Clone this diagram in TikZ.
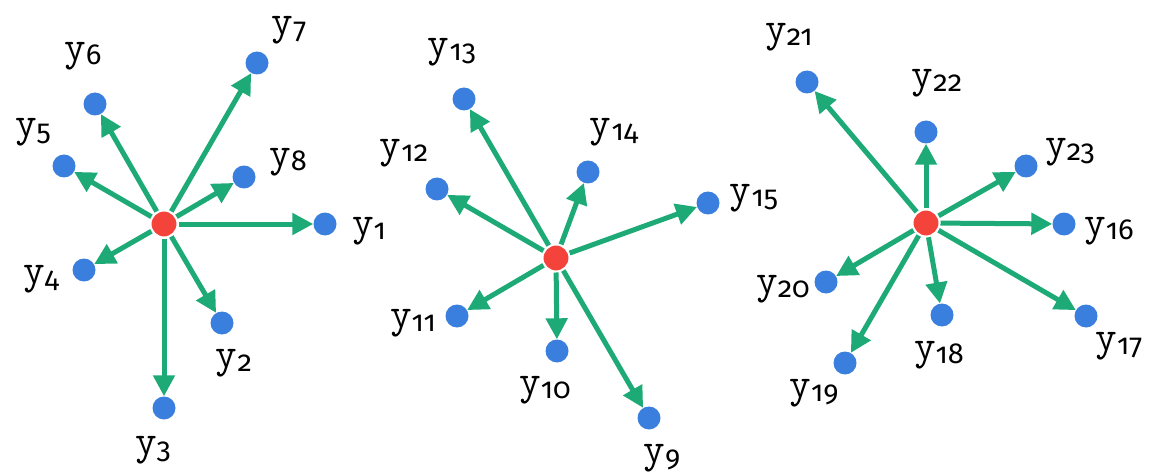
\documentclass[tikz,border=0pt]{standalone}
\usepackage{fontspec}
\usetikzlibrary{arrows.meta}
\newfontfamily\subfont[Numbers=OldStyle]{Fira Sans}
\newcommand\ylab[1]{{\ttfamily\fontsize{42}{46}\selectfont\addfontfeatures{FakeBold=4}y}\kern0pt\raisebox{-4pt}{\subfont\fontsize{29}{33}\selectfont #1}}
\definecolor{myblue}{HTML}{3A7FDD}
\definecolor{myred}{HTML}{F4433A}
\definecolor{mygreen}{HTML}{1DAA76}
\tikzset{
  leaf/.style={circle, fill=myblue, minimum size=23pt, inner sep=0pt},
  ctr/.style={circle, fill=myred, draw=white, line width=2pt, minimum size=27pt, inner sep=0pt},
  edg/.style={draw=mygreen, line width=5pt, -{Triangle[length=21pt,width=21pt]}},
  lab/.style={inner sep=0pt, anchor=center}
}
\begin{document}
\begin{tikzpicture}[x=1pt,y=-1pt]
\useasboundingbox (0,0) rectangle (1152,476);
% ---------- star 1
\node[ctr] (c1) at (164,224) {};
\node[leaf] (y1) at (325,224) {};
\node[leaf] (y2) at (222,323) {};
\node[leaf] (y3) at (164,408) {};
\node[leaf] (y4) at (84,270) {};
\node[leaf] (y5) at (64,166) {};
\node[leaf] (y6) at (95,104) {};
\node[leaf] (y7) at (257,63) {};
\node[leaf] (y8) at (244,177) {};
\foreach \i in {1,...,8} \draw[edg] (c1) -- (y\i);
\node[lab] (l1) at (369,231) {\ylab{1}};
\node[lab] (l2) at (234,363) {\ylab{2}};
\node[lab] (l3) at (153,450) {\ylab{3}};
\node[lab] (l4) at (41,279) {\ylab{4}};
\node[lab] (l5) at (33,132) {\ylab{5}};
\node[lab] (l6) at (83,56) {\ylab{6}};
\node[lab] (l7) at (289,30) {\ylab{7}};
\node[lab] (l8) at (288,162) {\ylab{8}};
% ---------- star 2
\node[ctr] (c2) at (556,258) {};
\node[leaf] (y9) at (649,418) {};
\node[leaf] (y10) at (557,351) {};
\node[leaf] (y11) at (457,316) {};
\node[leaf] (y12) at (437,189) {};
\node[leaf] (y13) at (464,99) {};
\node[leaf] (y14) at (588,172) {};
\node[leaf] (y15) at (708,203) {};
\foreach \i in {9,...,15} \draw[edg] (c2) -- (y\i);
\node[lab] (l9) at (662,458) {\ylab{9}};
\node[lab] (l10) at (545,390) {\ylab{10}};
\node[lab] (l11) at (413,323) {\ylab{11}};
\node[lab] (l12) at (404,153) {\ylab{12}};
\node[lab] (l13) at (452,52) {\ylab{13}};
\node[lab] (l14) at (614,132) {\ylab{14}};
\node[lab] (l15) at (754,198) {\ylab{15}};
% ---------- star 3
\node[ctr] (c3) at (926,223) {};
\node[leaf] (y16) at (1064,224) {};
\node[leaf] (y17) at (1086,316) {};
\node[leaf] (y18) at (942,315) {};
\node[leaf] (y19) at (845,363) {};
\node[leaf] (y20) at (826,282) {};
\node[leaf] (y21) at (807,82) {};
\node[leaf] (y22) at (926,132) {};
\node[leaf] (y23) at (1026,166) {};
\foreach \i in {16,...,23} \draw[edg] (c3) -- (y\i);
\node[lab] (l16) at (1109,231) {\ylab{16}};
\node[lab] (l17) at (1119,346) {\ylab{17}};
\node[lab] (l18) at (939,355) {\ylab{18}};
\node[lab] (l19) at (814,393) {\ylab{19}};
\node[lab] (l20) at (783,289) {\ylab{20}};
\node[lab] (l21) at (789,37) {\ylab{21}};
\node[lab] (l22) at (937,83) {\ylab{22}};
\node[lab] (l23) at (1070,152) {\ylab{23}};
\end{tikzpicture}
\end{document}
